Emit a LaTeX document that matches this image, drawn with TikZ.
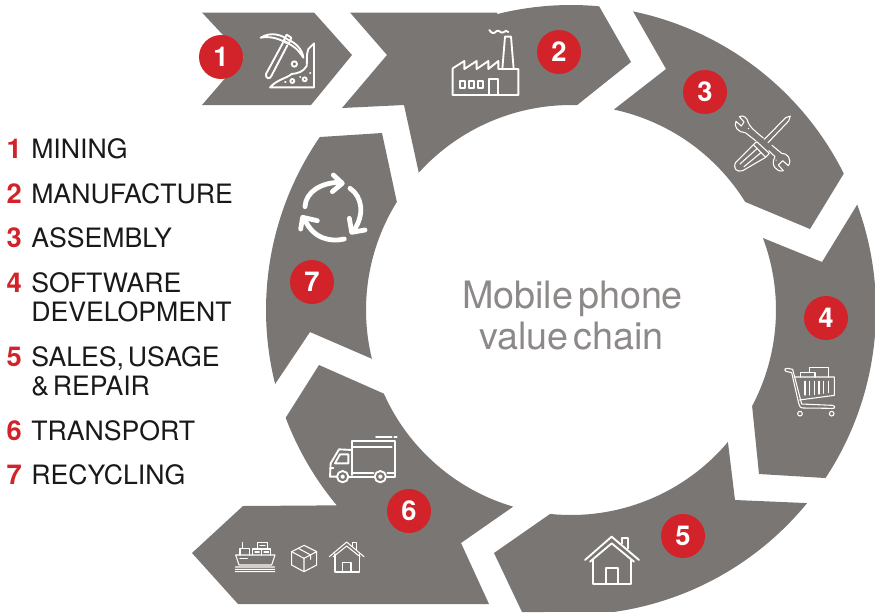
\documentclass[tikz,border=0pt]{standalone}
\usepackage{fontspec}
\usetikzlibrary{calc}
\setmainfont{TeX Gyre Heros}
\definecolor{seg}{HTML}{7A7674}
\definecolor{brand}{HTML}{D2232A}
\definecolor{midgrey}{HTML}{8C8988}
\newcommand\myLegFont{\fontsize{20}{21.75}\selectfont\spaceskip=0.14em\relax}
\newcommand\myTitleFont{\fontsize{28.3}{28.3}\selectfont\spaceskip=0.13em\relax}
\tikzset{
 segment/.style={fill=seg,draw=none},
 badge/.style={circle,fill=brand,text=white,minimum size=33pt,inner sep=0pt,font=\fontsize{20.5}{20.5}\selectfont\bfseries},
 legnum/.style={anchor=base east,inner sep=0pt,text=brand,font=\fontsize{20.5}{20.5}\selectfont\bfseries},
 legtext/.style={anchor=base west,inner sep=0pt,align=left,text=black!90,font=\myLegFont},
 title/.style={anchor=base,inner sep=0pt,text=midgrey,font=\myTitleFont},
 icon/.style 2 args={shift={(#1*0.75pt,-#2*0.75pt)},x=0.25pt,y=-0.25pt,draw=white,line width=1.4pt,line join=round,line cap=round},
 thin icon/.style={line width=0.8pt}
}
\begin{document}
\begin{tikzpicture}[x=0.75pt,y=0.75pt]
\useasboundingbox (0,0) rectangle (875,-612);
\coordinate (C) at (571,-310);
\def\RO{305}\def\RI{205}
% segments
\fill[segment] (202,-12.5) -- (314,-12.5) -- (352,-55) -- (311,-105) -- (202,-105) -- (243.5,-57) -- cycle;
\fill[segment] (350,-12.5) -- (497,-12.5) -- ($(C)+(104.04:\RO)$) arc[start angle=104.04,end angle=84.7,radius=\RO] -- (631,-62) -- ($(C)+(88.3:\RI)$) arc[start angle=88.3,end angle=137.95,radius=\RI] -- (404,-105) -- (342,-108) -- (387,-55) -- cycle;
\fill[segment] ($(C)+(78.25:\RO)$) arc[start angle=78.25,end angle=26.57,radius=\RO] -- (810,-229) -- ($(C)+(31.83:\RI)$) arc[start angle=31.83,end angle=77.93,radius=\RI] -- (666,-69) -- cycle;
\fill[segment] ($(C)+(20.22:\RO)$) arc[start angle=20.22,end angle=-33.43,radius=\RO] -- (759,-474) -- ($(C)+(-27.94:\RI)$) arc[start angle=-27.94,end angle=20.56,radius=\RI] -- (822,-262) -- cycle;
\fill[segment] (522,-612) -- ($(C)+(-81.9:\RO)$) arc[start angle=-81.9,end angle=-39.28,radius=\RO] -- (735,-500) -- ($(C)+(-40.05:\RI)$) arc[start angle=-40.05,end angle=-95.85,radius=\RI] -- (494,-553) -- cycle;
\fill[segment] ($(C)+(-155.92:\RI)$) arc[start angle=-155.92,end angle=-106.4,radius=\RI] -- (461,-543) -- (489,-604) -- (238,-604) -- (192,-553) -- (243,-506) -- ($(C)+(-140.17:\RO)$) arc[start angle=-140.17,end angle=-159.31,radius=\RO] -- (319,-365) -- cycle;
\fill[segment] (320,-137) -- (382,-133) -- ($(C)+(148.17:\RI)$) arc[start angle=148.17,end angle=193.77,radius=\RI] -- (310,-332) -- ($(C)+(194.04:\RO)$) arc[start angle=194.04,end angle=145.42,radius=\RO] -- cycle;
% icon 1 pick and mound
\begin{scope}[icon={190}{0}]
\draw (212,113) .. controls (245,92) and (280,108) .. (292,118) .. controls (318,128) and (338,150) .. (340,173) .. controls (325,150) and (310,135) .. (288,128) .. controls (265,115) and (240,108) .. (212,113) -- cycle;
\draw (290,104) -- (304,113) -- (297,130) -- (281,122) -- cycle;
\draw (279,128) -- (228,222) .. controls (225,235) and (240,240) .. (244,228) -- (292,136);
\draw (240,262) -- (372,262) -- (372,130) -- (355,147) .. controls (348,165) and (352,185) .. (350,198) .. controls (340,215) and (325,220) .. (305,222) .. controls (290,235) and (262,238) .. (240,262);
\draw (313,192) circle[radius=8];
\draw (307,243) circle[radius=6];
\draw (344,238) circle[radius=6];
\draw (285,245) -- (287,245) (360,218) -- (361,218) (330,232) -- (331,232);
% factory
\draw (788,285) -- (788,205) -- (823,183) -- (823,207) -- (860,183) -- (860,207) -- (895,183) -- (895,207) -- (925,183) -- (925,207) -- (985,207) -- (985,285) -- cycle;
\draw (937,207) -- (945,110) -- (963,110) -- (971,207);
\draw (810,243) rectangle (824,265) (836,243) rectangle (852,265) (864,243) rectangle (880,265);
\draw (898,285) -- (898,237) -- (925,237) -- (925,285);
\draw (898,90) .. controls (906,102) and (912,102) .. (920,93) .. controls (928,88) and (932,102) .. (940,97) .. controls (946,90) and (950,92) .. (955,96);
\end{scope}
% icon 3 tools
\begin{scope}[icon={600}{0},thin icon]
% screwdriver
\draw (571,348) -- (557,353) -- (493,418) (571,348) -- (566,363) -- (504,428);
\draw (470,425) -- (508,460) -- (497,472) -- (460,434) (470,425) -- (460,434);
\draw (460,434) -- (407,487) .. controls (398,505) and (410,518) .. (428,512) -- (497,472);
\draw (420,492) -- (472,445) (432,500) -- (484,457);
% wrench
\draw (444,366) .. controls (442,352) and (428,344) .. (418,350) -- (432,366) -- (424,378) -- (408,364) .. controls (400,380) and (415,398) .. (436,398) -- (468,423);
\draw (444,366) .. controls (448,378) and (458,388) .. (490,414);
\draw (506,452) -- (525,470) .. controls (510,495) and (530,518) .. (550,512) -- (535,495) -- (548,482) -- (565,497) .. controls (578,478) and (560,458) .. (545,460) -- (516,436);
\draw (445,385) -- (446,386) (528,480) -- (529,481);
\end{scope}
% icon 4 cart
\begin{scope}[icon={700}{200},thin icon]
\draw (275,518) -- (258,514) .. controls (250,508) and (258,503) .. (263,505) -- (278,508) -- (305,612) -- (398,616) .. controls (406,618) and (406,626) .. (398,625) -- (310,624) .. controls (300,624) and (298,618) .. (296,610) -- (275,518);
\draw (283,531) -- (403,531) -- (403,586) -- (298,600);
\draw (315,544) -- (315,585) (329,544) -- (329,585) (343,544) -- (343,584) (357,544) -- (357,582) (371,544) -- (371,580) (385,544) -- (385,578);
\draw (302,531) -- (302,518) -- (345,518) -- (345,531);
\draw (328,518) -- (328,502) -- (385,502) -- (385,531);
\draw (300,641) circle[radius=7] (395,641) circle[radius=7];
\end{scope}
% icon 5 house
\begin{scope}[icon={480}{440}]
\draw (315,360) -- (395,290) -- (477,360);
\draw (330,365) -- (395,310) -- (462,365);
\draw (340,360) -- (340,432) -- (452,432) -- (452,360);
\draw (378,432) -- (378,385) -- (413,385) -- (413,432);
\draw (425,310) -- (425,295) -- (443,295) -- (443,325);
\end{scope}
% icon 6 truck, ship, box, house
\begin{scope}[icon={190}{360}]
\draw (487,345) -- (487,242) -- (615,242) -- (615,350) -- (592,350);
\draw (490,260) -- (605,260) (558,232) -- (605,232) (613,232) -- (620,232);
\draw (487,270) -- (447,268) -- (422,310) -- (420,350) -- (440,350);
\draw (435,310) -- (450,283) -- (475,283) -- (475,310) -- cycle;
\draw (420,325) -- (430,325);
\draw (476,350) -- (552,350) (490,338) -- (550,338) (592,338) -- (612,338);
\draw (458,350) circle[radius=17] (458,350) circle[radius=4];
\draw (571,350) circle[radius=17] (571,350) circle[radius=4];
\end{scope}
\begin{scope}[icon={190}{360},thin icon]
\draw (137,585) -- (255,585) -- (245,615) -- (147,615) -- cycle;
\draw (187,585) -- (187,567) -- (242,567) -- (242,585) (215,567) -- (215,585);
\draw (202,567) -- (202,547) -- (232,547) -- (232,567);
\draw (150,585) -- (150,565) -- (178,565) -- (178,585) (158,565) -- (158,547);
\draw (150,595) -- (172,595);
\draw (210,557) -- (225,557) (195,576) -- (208,576) (222,576) -- (236,576);
\foreach \yy in {621,628,635}{\draw (136,\yy) .. controls (145,\yy-5) and (150,\yy+5) .. (160,\yy) .. controls (170,\yy-5) and (175,\yy+5) .. (185,\yy) .. controls (195,\yy-5) and (200,\yy+5) .. (210,\yy) .. controls (220,\yy-5) and (225,\yy+5) .. (235,\yy) -- (254,\yy);}
\draw (342,556) -- (380,575) -- (380,615) -- (342,635) -- (305,615) -- (305,575) -- cycle;
\draw (305,575) -- (342,595) -- (380,575) (342,595) -- (342,635);
\draw (325,565) -- (362,585) -- (362,598);
\draw (418,590) -- (470,546) -- (522,590);
\draw (430,590) -- (470,558) -- (510,590);
\draw (435,582) -- (435,636) -- (508,636) -- (508,582);
\draw (458,636) -- (458,607) -- (483,607) -- (483,636);
\draw (488,560) -- (488,548) -- (500,548) -- (500,572);
\end{scope}
% icon 7 recycle
\begin{scope}[icon={255}{125},line width=3.6pt]
\draw (150,245) .. controls (152,200) and (200,172) .. (255,172);
\draw (235,150) -- (262,175) -- (232,200);
\draw (285,190) .. controls (322,215) and (330,270) .. (295,318);
\draw (283,280) -- (290,322) -- (330,315);
\draw (268,342) .. controls (225,352) and (175,340) .. (150,285);
\draw (137,312) -- (143,277) -- (187,287);
\end{scope}
% badges
\node[badge] (b1) at (221,-57) {1};
\node[badge] (b2) at (559,-52) {2};
\node[badge] (b3) at (705,-92) {3};
\node[badge] (b4) at (826,-318) {4};
\node[badge] (b5) at (683,-536) {5};
\node[badge] (b6) at (409,-511) {6};
\node[badge] (b7) at (312,-282) {7};
% centre
\node[title] (t1) at (572.5,-308) {Mobile phone};
\node[title] (t2) at (571.5,-349) {value chain};
% legend
\node[legnum] (n1) at (22,-158.7) {1};
\node[legtext] (l1) at (31,-158.7) {MINING};
\node[legnum] (n2) at (22,-203.4) {2};
\node[legtext] (l2) at (31,-203.4) {MANUFACTURE};
\node[legnum] (n3) at (22,-247.4) {3};
\node[legtext] (l3) at (31,-247.4) {ASSEMBLY};
\node[legnum] (n4) at (22,-292.4) {4};
\node[legtext] (l4) at (31,-321.4) {SOFTWARE\\DEVELOPMENT};
\node[legnum] (n5) at (22,-366) {5};
\node[legtext] (l5) at (31,-395.7) {SALES, USAGE\\\& REPAIR};
\node[legnum] (n6) at (22,-440) {6};
\node[legtext] (l6) at (31,-440) {TRANSPORT};
\node[legnum] (n7) at (22,-484) {7};
\node[legtext] (l7) at (31,-484) {RECYCLING};
\end{tikzpicture}
\end{document}
